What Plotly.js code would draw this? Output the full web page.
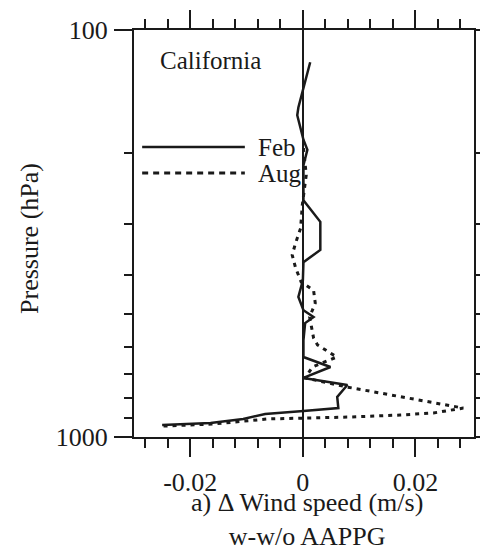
<!DOCTYPE html>
<html>
<head>
<meta charset="utf-8">
<script src="https://cdn.plot.ly/plotly-3.0.1.min.js"></script>
<style>
  html, body { margin: 0; padding: 0; background: #fff; }
  #chart { width: 480px; height: 557px; }
</style>
</head>
<body>
<div id="chart"></div>
<script>
// Difference in wind speed (with minus without AAPPG), California profiles
const febSpeed = [0.0013, -0.0008, -0.0010, 0.0001, 0.0008, 0.0001, 0.0001, 0.0031, 0.0031, 0.0001,
                  0.0000, -0.0008, 0.0001, 0.0019, 0.0004, 0.0001, 0.0001, 0.0049, 0.0001, 0.0079,
                  0.0061, 0.0063, 0.0001, -0.0067, -0.0106, -0.0164, -0.0250];
const febPressure = [120, 155, 162, 186, 197, 215, 262, 296, 347, 372,
                     412, 453, 488, 507, 525, 578, 636, 673, 716, 745,
                     797, 849, 863, 878, 903, 924, 934];

const augSpeed = [0.0001, 0.0006, -0.0001, -0.0004, -0.0013, -0.0019, -0.0013, -0.0003, 0.0019, 0.0022,
                  0.0012, 0.0019, 0.0026, 0.0060, 0.0017, 0.0004, 0.0079, 0.0173, 0.0232, 0.0285,
                  0.0232, 0.0173, 0.0084, 0.0008, -0.0063, -0.0159, -0.0248];
const augPressure = [195, 227, 269, 307, 334, 357, 384, 416, 436, 469,
                     507, 571, 594, 636, 673, 716, 754, 797, 825, 849,
                     873, 883, 893, 898, 903, 929, 940];

const xTickVals = [-0.02, 0, 0.02];
const xTickText = ['-0.02', '0', '0.02'];
const xMinorTicks = [-0.028, -0.024, -0.016, -0.012, -0.008, -0.004, 0.004, 0.008, 0.012, 0.016, 0.024, 0.028];
const yTickVals = [100, 1000];
const yTickText = ['100', '1000'];
const yMinorTicks = [200, 300, 400, 500, 600, 700, 800, 900];
const xTitleLines = ['a) \u0394 Wind speed (m/s)', 'w-w/o AAPPG'];
const yTitle = 'Pressure (hPa)';

const ink = '#1a1a1a';
const serif = 'Liberation Serif';

const traces = [
  {
    x: febSpeed, y: febPressure, type: 'scatter', mode: 'lines', name: 'Feb',
    line: { color: ink, width: 2.5, dash: 'solid' }
  },
  {
    x: augSpeed, y: augPressure, type: 'scatter', mode: 'lines', name: 'Aug',
    line: { color: ink, width: 3, dash: '4px,5px' }
  }
];

const layout = {
  width: 480, height: 557,
  margin: { l: 134, r: 6, t: 30, b: 120 },
  paper_bgcolor: '#fff', plot_bgcolor: '#fff',
  showlegend: false,
  font: { family: serif, size: 26, color: ink },
  xaxis: {
    range: [-0.03, 0.0304],
    showline: true, linecolor: ink, linewidth: 2, mirror: 'allticks',
    showgrid: false,
    zeroline: true, zerolinecolor: ink, zerolinewidth: 2,
    ticks: 'outside', ticklen: 18, tickwidth: 2, tickcolor: ink,
    tickmode: 'array', tickvals: xTickVals, ticktext: xTickText,
    ticklabelstandoff: 3,
    minor: { tickmode: 'array', tickvals: xMinorTicks, ticks: 'outside', ticklen: 9, tickwidth: 2, tickcolor: ink, showgrid: false },
    tickfont: { family: serif, size: 26, color: ink }
  },
  yaxis: {
    type: 'log', range: [3, 2],
    showline: true, linecolor: ink, linewidth: 2, mirror: 'allticks',
    showgrid: false, zeroline: false,
    ticks: 'outside', ticklen: 18, tickwidth: 2, tickcolor: ink,
    tickmode: 'array', tickvals: yTickVals, ticktext: yTickText,
    ticklabelstandoff: 1,
    minor: { tickmode: 'array', tickvals: yMinorTicks, ticks: 'outside', ticklen: 8, tickwidth: 2, tickcolor: ink, showgrid: false },
    tickfont: { family: serif, size: 26, color: ink }
  },
  shapes: [
    // legend samples
    { type: 'line', xref: 'paper', yref: 'paper', x0: 0.024, x1: 0.326, y0: 0.7125, y1: 0.7125,
      line: { color: ink, width: 2.5 } },
    { type: 'line', xref: 'paper', yref: 'paper', x0: 0.024, x1: 0.326, y0: 0.6486, y1: 0.6486,
      line: { color: ink, width: 3, dash: '6px,5px' } }
  ],
  annotations: [
    { text: 'California', xref: 'paper', yref: 'paper', x: 0.07, y: 0.926, xanchor: 'left', yanchor: 'middle',
      showarrow: false, font: { family: serif, size: 25, color: ink } },
    { text: 'Feb', xref: 'paper', yref: 'paper', x: 0.36, y: 0.7125, xanchor: 'left', yanchor: 'middle',
      showarrow: false, font: { family: serif, size: 25, color: ink } },
    { text: 'Aug', xref: 'paper', yref: 'paper', x: 0.36, y: 0.6486, xanchor: 'left', yanchor: 'middle',
      showarrow: false, font: { family: serif, size: 25, color: ink } },
    // x-axis title, two lines under the tick labels
    { text: xTitleLines.join('<br>'), xref: 'paper', yref: 'paper', x: 0.5, y: -0.2026, xshift: 3,
      xanchor: 'center', yanchor: 'middle', align: 'center',
      showarrow: false, font: { family: serif, size: 26, color: ink } },
    // y-axis title, rotated
    { text: yTitle, xref: 'paper', yref: 'paper', x: -0.306, y: 0.489, textangle: -90,
      xanchor: 'center', yanchor: 'middle',
      showarrow: false, font: { family: serif, size: 26, color: ink } }
  ]
};

Plotly.newPlot('chart', traces, layout, { staticPlot: true, displayModeBar: false });
</script>
</body>
</html>
